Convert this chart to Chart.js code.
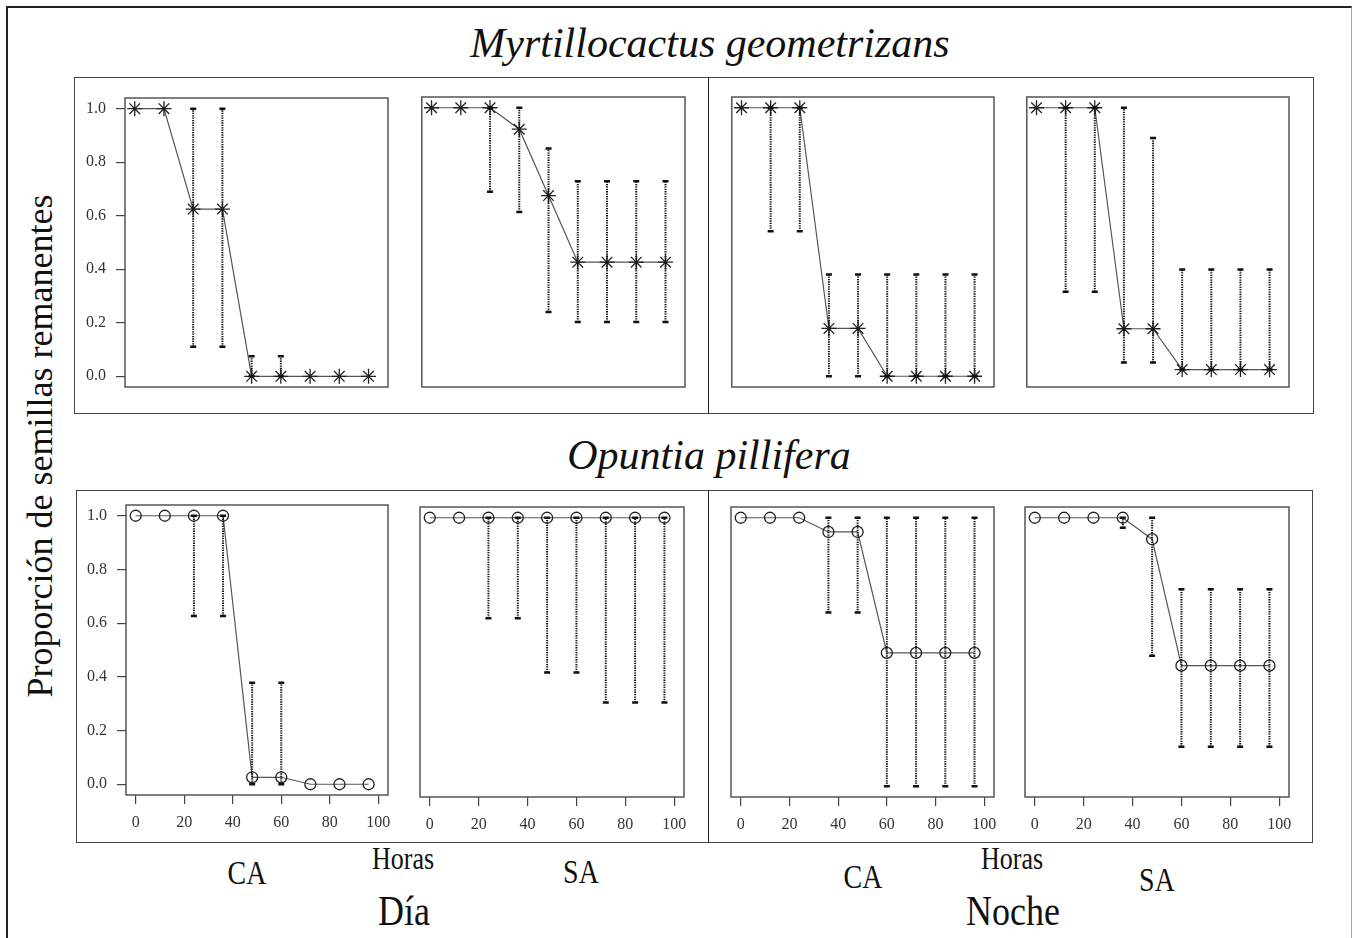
<!DOCTYPE html>
<html><head><meta charset="utf-8">
<script src="https://cdn.jsdelivr.net/npm/chart.js@4.4.1/dist/chart.umd.min.js"></script>
<style>
html,body{margin:0;padding:0;background:#fff;width:1353px;height:938px;overflow:hidden;}
#wrap{position:relative;width:1353px;height:938px;}
.frame{position:absolute;box-sizing:border-box;}
.txt{position:absolute;font-family:"Liberation Serif","Times New Roman",serif;color:#111;white-space:nowrap;line-height:1;transform:translate(-50%,-50%);}
.tall{transform:translate(-50%,-50%) scaleY(1.2);}
canvas{position:absolute;}
</style></head><body><div id="wrap">
<div class="frame" style="left:6px;top:6px;width:1346px;height:950px;border-left:2px solid #222;border-top:2px solid #222;border-right:1px solid #aaa;"></div>
<div class="frame" style="left:74px;top:77px;width:1240px;height:337px;border:1px solid #444;"></div>
<div class="frame" style="left:708px;top:77px;width:0;height:337px;border-left:1.5px solid #222;"></div>
<div class="frame" style="left:76px;top:490px;width:1237px;height:353px;border:1px solid #444;"></div>
<div class="frame" style="left:708px;top:490px;width:0;height:353px;border-left:1.5px solid #222;"></div>

<div class="txt" style="left:710px;top:43px;font-size:42px;font-style:italic;">Myrtillocactus geometrizans</div>
<div class="txt" style="left:709px;top:455px;font-size:42px;font-style:italic;">Opuntia pillifera</div>
<div class="txt" style="left:40px;top:446px;font-size:36px;transform:translate(-50%,-50%) rotate(-90deg);">Proporción de semillas remanentes</div>
<div class="txt tall" style="left:247px;top:873px;font-size:28px;">CA</div>
<div class="txt tall" style="left:403px;top:859px;font-size:26px;">Horas</div>
<div class="txt tall" style="left:581px;top:872px;font-size:28px;">SA</div>
<div class="txt tall" style="left:863px;top:877px;font-size:28px;">CA</div>
<div class="txt tall" style="left:1012px;top:859px;font-size:26px;">Horas</div>
<div class="txt tall" style="left:1157px;top:880px;font-size:28px;">SA</div>
<div class="txt tall" style="left:404px;top:911px;font-size:36px;">Día</div>
<div class="txt tall" style="left:1013px;top:911px;font-size:36px;">Noche</div>
</div>
<script>
// ---- data ----
const hours = [0, 12, 24, 36, 48, 60, 72, 84, 96];
const yTicks = [0, 0.2, 0.4, 0.6, 0.8, 1.0];
const xTicks = [0, 20, 40, 60, 80, 100];

// Myrtillocactus geometrizans
const mgDiaCA    = [1, 1, 0.625, 0.625, 0, 0, 0, 0, 0];
const mgDiaCA_lo = [null, null, 0.11, 0.11, 0, 0, null, null, null];
const mgDiaCA_hi = [null, null, 1, 1, 0.075, 0.075, null, null, null];

const mgDiaSA    = [1, 1, 1, 0.92, 0.673, 0.425, 0.425, 0.425, 0.425];
const mgDiaSA_lo = [null, null, 0.687, 0.612, 0.239, 0.202, 0.202, 0.202, 0.202];
const mgDiaSA_hi = [null, null, 1, 1, 0.848, 0.726, 0.726, 0.726, 0.726];

const mgNocheCA    = [1, 1, 1, 0.178, 0.178, 0, 0, 0, 0];
const mgNocheCA_lo = [null, 0.54, 0.54, 0, 0, 0, 0, 0, 0];
const mgNocheCA_hi = [null, 1, 1, 0.379, 0.379, 0.379, 0.379, 0.379, 0.379];

const mgNocheSA    = [1, 1, 1, 0.177, 0.177, 0.025, 0.025, 0.025, 0.025];
const mgNocheSA_lo = [null, 0.315, 0.315, 0.051, 0.051, 0.025, 0.025, 0.025, 0.025];
const mgNocheSA_hi = [null, 1, 1, 1, 0.887, 0.398, 0.398, 0.398, 0.398];

// Opuntia pillifera
const opDiaCA    = [1, 1, 1, 1, 0.026, 0.026, 0, 0, 0];
const opDiaCA_lo = [null, null, 0.627, 0.627, 0, 0, null, null, null];
const opDiaCA_hi = [null, null, 1, 1, 0.378, 0.378, null, null, null];

const opDiaSA    = [1, 1, 1, 1, 1, 1, 1, 1, 1];
const opDiaSA_lo = [null, null, 0.626, 0.626, 0.424, 0.424, 0.312, 0.312, 0.312];
const opDiaSA_hi = [null, null, 1, 1, 1, 1, 1, 1, 1];

const opNocheCA    = [1, 1, 1, 0.947, 0.947, 0.497, 0.497, 0.497, 0.497];
const opNocheCA_lo = [null, null, null, 0.647, 0.647, 0, 0, 0, 0];
const opNocheCA_hi = [null, null, null, 1, 1, 1, 1, 1, 1];

const opNocheSA    = [1, 1, 1, 1, 0.92, 0.449, 0.449, 0.449, 0.449];
const opNocheSA_lo = [null, null, null, 0.963, 0.486, 0.147, 0.147, 0.147, 0.147];
const opNocheSA_hi = [null, null, null, 1, 1, 0.734, 0.734, 0.734, 0.734];

// ---- layout (plot box edges: left, top, right, bottom) ----
const panels = [
  {box:[125, 98, 388, 387], mean:mgDiaCA, lo:mgDiaCA_lo, hi:mgDiaCA_hi, star:true, showY:true, showX:false},
  {box:[421, 97, 685, 387], mean:mgDiaSA, lo:mgDiaSA_lo, hi:mgDiaSA_hi, star:true, showY:false, showX:false},
  {box:[731, 97, 994, 387], mean:mgNocheCA, lo:mgNocheCA_lo, hi:mgNocheCA_hi, star:true, showY:false, showX:false},
  {box:[1026, 97, 1289, 387], mean:mgNocheSA, lo:mgNocheSA_lo, hi:mgNocheSA_hi, star:true, showY:false, showX:false},
  {box:[126, 505, 388, 795], mean:opDiaCA, lo:opDiaCA_lo, hi:opDiaCA_hi, star:false, showY:true, showX:true},
  {box:[420, 507, 684, 797], mean:opDiaSA, lo:opDiaSA_lo, hi:opDiaSA_hi, star:false, showY:false, showX:true},
  {box:[731, 507, 994, 797], mean:opNocheCA, lo:opNocheCA_lo, hi:opNocheCA_hi, star:false, showY:false, showX:true},
  {box:[1025, 507, 1289, 797], mean:opNocheSA, lo:opNocheSA_lo, hi:opNocheSA_hi, star:false, showY:false, showX:true}
];

const tickFont = {family:'"Liberation Serif","Times New Roman",serif', size:16};

function makeErr(lo, hi) {
  return {
    id: 'errBars',
    afterDatasetsDraw(chart) {
      const ctx = chart.ctx, x = chart.scales.x, y = chart.scales.y;
      ctx.save();
      ctx.strokeStyle = '#111';
      for (let i = 0; i < hours.length; i++) {
        if (lo[i] == null) continue;
        const px = x.getPixelForValue(hours[i]);
        const y1 = y.getPixelForValue(lo[i]);
        const y2 = y.getPixelForValue(hi[i]);
        ctx.setLineDash([1.3, 1.1]);
        ctx.lineWidth = 2;
        ctx.beginPath(); ctx.moveTo(px, y1); ctx.lineTo(px, y2); ctx.stroke();
        ctx.setLineDash([]);
        ctx.lineWidth = 2.5;
        ctx.beginPath();
        ctx.moveTo(px - 3, y1); ctx.lineTo(px + 3, y1);
        ctx.moveTo(px - 3, y2); ctx.lineTo(px + 3, y2);
        ctx.stroke();
      }
      ctx.restore();
    }
  };
}

const boxPlugin = {
  id: 'plotBox',
  afterDraw(chart) {
    const a = chart.chartArea, ctx = chart.ctx;
    ctx.save();
    ctx.strokeStyle = '#555';
    ctx.lineWidth = 1.5;
    ctx.strokeRect(a.left, a.top, a.right - a.left, a.bottom - a.top);
    ctx.restore();
  }
};

const wrap = document.getElementById('wrap');
panels.forEach((p) => {
  const [l, t, r, b] = p.box;
  const YW = 55, XH = 45;
  const padL = p.showY ? YW : 8, padT = 26, padR = 22, padB = p.showX ? XH : 26;
  const cv = document.createElement('canvas');
  cv.width = (r - l) + padL + padR;
  cv.height = (b - t) + padT + padB;
  cv.style.left = (l - padL) + 'px';
  cv.style.top = (t - padT) + 'px';
  cv.style.width = cv.width + 'px';
  cv.style.height = cv.height + 'px';
  wrap.appendChild(cv);
  new Chart(cv, {
    type: 'line',
    data: {
      datasets: [{
        data: hours.map((h, i) => ({x: h, y: p.mean[i]})),
        borderColor: '#555',
        borderWidth: 1.2,
        tension: 0,
        fill: false,
        pointStyle: p.star ? 'star' : 'circle',
        pointRadius: p.star ? 7.5 : 5.5,
        pointBorderColor: '#222',
        pointBackgroundColor: 'rgba(0,0,0,0)',
        pointBorderWidth: 1.3
      }]
    },
    options: {
      responsive: false,
      animation: false,
      devicePixelRatio: 1,
      layout: {padding: {left: p.showY ? 0 : padL, top: padT, right: padR, bottom: p.showX ? 0 : padB}},
      plugins: {legend: {display: false}, tooltip: {enabled: false}, title: {display: false}},
      scales: {
        x: {
          type: 'linear', min: -4, max: 104, display: p.showX,
          afterBuildTicks: s => { s.ticks = xTicks.map(v => ({value: v})); },
          afterFit: s => { if (p.showX) s.height = XH; },
          ticks: {font: tickFont, color: '#333', padding: 9, maxRotation: 0, autoSkip: false, callback: v => String(v)},
          grid: {drawOnChartArea: false, drawTicks: true, tickLength: 9, color: '#444', lineWidth: 1.2},
          border: {display: false}
        },
        y: {
          type: 'linear', min: -0.04, max: 1.04, display: p.showY,
          afterBuildTicks: s => { s.ticks = yTicks.map(v => ({value: v})); },
          afterFit: s => { if (p.showY) s.width = YW; },
          ticks: {font: tickFont, color: '#333', padding: 10, autoSkip: false, callback: v => v.toFixed(1)},
          grid: {drawOnChartArea: false, drawTicks: true, tickLength: 9, color: '#444', lineWidth: 1.2},
          border: {display: false}
        }
      }
    },
    plugins: [makeErr(p.lo, p.hi), boxPlugin]
  });
});
</script>
</body></html>
